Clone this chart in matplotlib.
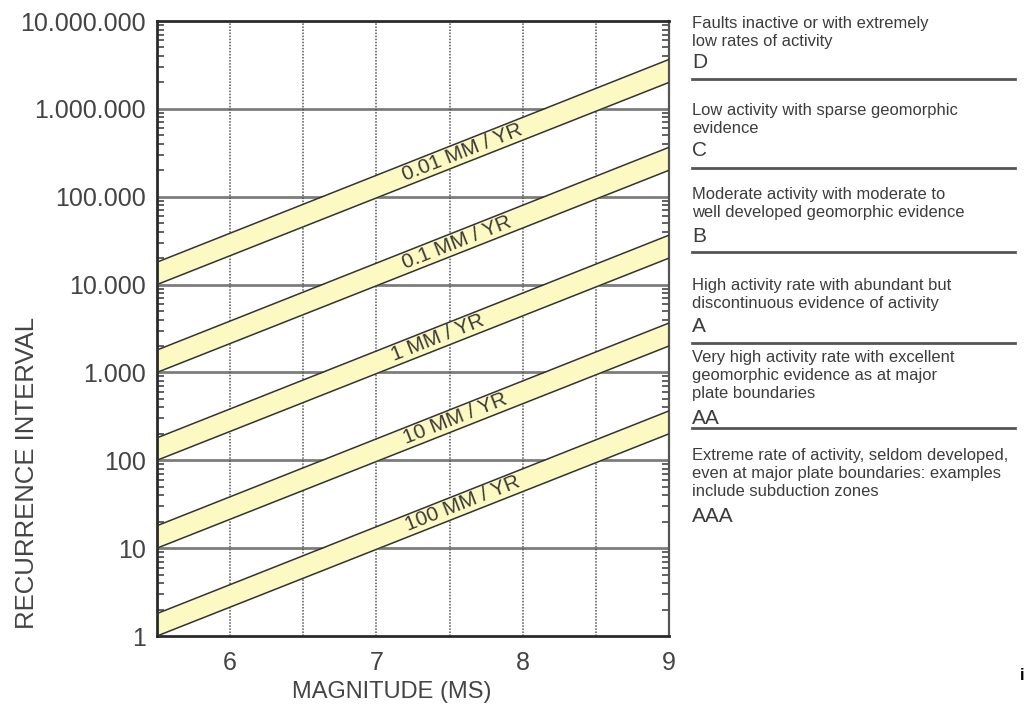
import numpy as np
import matplotlib
matplotlib.use("Agg")
import matplotlib.pyplot as plt
from matplotlib.ticker import LogLocator, FixedLocator, FuncFormatter, NullFormatter

plt.rcParams['font.family'] = ['Liberation Sans', 'DejaVu Sans']

# band data: recurrence interval at M 5.5 and M 9
mag = [5.5, 9.0]
rate_labels = ['0.01 MM / YR', '0.1 MM / YR', '1 MM / YR', '10 MM / YR', '100 MM / YR']
low_start = [10000, 1000, 100, 10, 1]
high_start = [18000, 1800, 180, 18, 1.8]
low_end = [2000000, 200000, 20000, 2000, 200]
high_end = [3650000, 365000, 36500, 3650, 365]
label_mag = [7.59, 7.55, 7.42, 7.54, 7.59]

x_ticks = [6, 7, 8, 9]
y_ticks = [1, 10, 100, 1000, 10000, 100000, 1000000, 10000000]

classes = ['D', 'C', 'B', 'A', 'AA', 'AAA']
descriptions = [
    'Faults inactive or with extremely\nlow rates of activity',
    'Low activity with sparse geomorphic\nevidence',
    'Moderate activity with moderate to\nwell developed geomorphic evidence',
    'High activity rate with abundant but\ndiscontinuous evidence of activity',
    'Very high activity rate with excellent\ngeomorphic evidence as at major\nplate boundaries',
    'Extreme rate of activity, seldom developed,\neven at major plate boundaries: examples\ninclude subduction zones',
]

W, H = 1026, 706
fig = plt.figure(figsize=(W / 100, H / 100), dpi=100)
ax = fig.add_axes([157 / W, 1 - 636 / H, 512 / W, 615 / H])
ax.set_yscale('log')
ax.set_xlim(5.5, 9)
ax.set_ylim(1, 1e7)

band_color = '#fdf9c2'
edge_color = '#333333'
for i in range(len(rate_labels)):
    lo = [low_start[i], low_end[i]]
    hi = [high_start[i], high_end[i]]
    ax.fill_between(mag, lo, hi, color=band_color, lw=0, zorder=2)
    ax.plot(mag, lo, color=edge_color, lw=1.1, zorder=3)
    ax.plot(mag, hi, color=edge_color, lw=1.1, zorder=3)

# grid
for v in y_ticks[1:-1]:
    ax.axhline(v, color='#7c7c7c', lw=2, zorder=1)
for v in [6, 6.5, 7, 7.5, 8, 8.5]:
    ax.axvline(v, color='#555555', lw=1.1, ls=(0, (1, 1)), zorder=1)

# band labels, rotated along the band
p1 = ax.transData.transform((mag[0], low_start[0]))
p2 = ax.transData.transform((mag[1], low_end[0]))
angle = np.degrees(np.arctan2(p2[1] - p1[1], p2[0] - p1[0]))
for i, lab in enumerate(rate_labels):
    xm = label_mag[i]
    lo = np.interp(xm, mag, np.log10([low_start[i], low_end[i]]))
    hi = np.interp(xm, mag, np.log10([high_start[i], high_end[i]]))
    ax.text(xm, 10 ** ((lo + hi) / 2), lab, rotation=angle, rotation_mode='anchor',
            ha='center', va='center', fontsize=15, color='#3a3a3a', zorder=4)

# axes styling
ax.xaxis.set_major_locator(FixedLocator(x_ticks))
ax.tick_params(axis='x', length=0, pad=11, labelsize=18, labelcolor='#444444')
ax.yaxis.set_major_locator(FixedLocator(y_ticks))
ax.yaxis.set_major_formatter(FuncFormatter(lambda v, p: f"{int(round(v)):,}".replace(',', '.')))
ax.yaxis.set_minor_locator(LogLocator(base=10, subs=range(2, 10), numticks=20))
ax.yaxis.set_minor_formatter(NullFormatter())
ax.tick_params(axis='y', which='major', length=0, pad=8, labelsize=18, labelcolor='#444444')
ax.tick_params(axis='y', which='minor', direction='in', length=5, width=1.3,
               left=True, right=True, color='#555555')
for s in ['left', 'top', 'bottom']:
    ax.spines[s].set_linewidth(2)
    ax.spines[s].set_color('#2a2a2a')
ax.spines['right'].set_linewidth(1.6)
ax.spines['right'].set_color('#555555')

fig.text(392 / W, 1 - 692 / H, 'MAGNITUDE (MS)', ha='center', va='center',
         fontsize=17, color='#444444')
fig.text(27 / W, 1 - 473 / H, 'RECURRENCE INTERVAL', ha='center', va='center',
         rotation=90, fontsize=18.5, color='#444444')

# right-hand activity classes
desc_top = [16, 103, 187, 278, 350, 448]
letter_y = [62, 151, 236, 326, 419, 517]
sep_y = [79, 168, 252, 343, 428]
tx = 692 / W
for i in range(len(classes)):
    fig.text(tx, 1 - desc_top[i] / H, descriptions[i], ha='left', va='top',
             fontsize=11.9, linespacing=1.25, color='#3c3c3c')
    fig.text(tx, 1 - letter_y[i] / H, classes[i], ha='left', va='center',
             fontsize=15, color='#3c3c3c')
for y in sep_y:
    fig.add_artist(plt.Line2D([692 / W, 1015 / W], [1 - y / H, 1 - y / H],
                              color='#555555', lw=2))

fig.text(1022 / W, 1 - 676 / H, 'i', ha='center', va='center', fontsize=12,
         color='black', fontweight='bold')

fig.savefig('out.png', dpi=100)
